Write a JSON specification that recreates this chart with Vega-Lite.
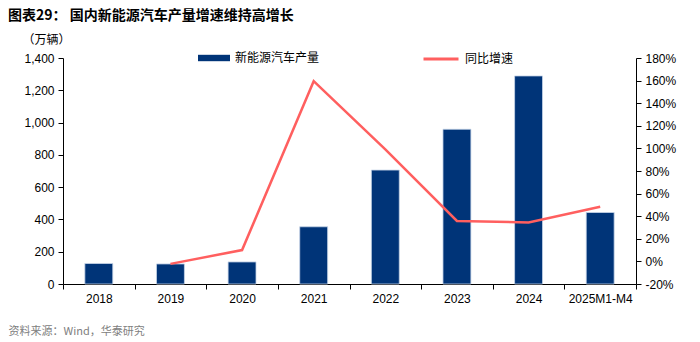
{
  "$schema": "https://vega.github.io/schema/vega-lite/v6.json",
  "width": 573,
  "height": 226,
  "autosize": {"type": "none"},
  "padding": {"left": 63, "top": 58, "right": 64, "bottom": 58},
  "background": "white",
  "title": {
    "text": "图表29：  国内新能源汽车产量增速维持高增长",
    "anchor": "start",
    "frame": "group",
    "dx": -55,
    "offset": 10,
    "font": "Noto Sans CJK SC",
    "fontSize": 14,
    "fontWeight": "bold",
    "color": "#000000"
  },
  "data": {
    "values": [
      {"year": "2018", "prod": 127.0, "growth": null},
      {"year": "2019", "prod": 124.2, "growth": -0.022},
      {"year": "2020", "prod": 136.6, "growth": 0.100},
      {"year": "2021", "prod": 354.5, "growth": 1.595},
      {"year": "2022", "prod": 705.8, "growth": 0.991},
      {"year": "2023", "prod": 958.7, "growth": 0.358},
      {"year": "2024", "prod": 1288.8, "growth": 0.344},
      {"year": "2025M1-M4", "prod": 442.9, "growth": 0.483}
    ]
  },
  "config": {
    "view": {"stroke": null},
    "axis": {
      "grid": false,
      "labelFont": "Liberation Sans",
      "labelFontSize": 12,
      "labelColor": "#000000",
      "domainColor": "#000000",
      "tickColor": "#000000",
      "tickSize": 5
    }
  },
  "encoding": {
    "x": {
      "field": "year",
      "type": "ordinal",
      "sort": null,
      "scale": {"paddingInner": 0, "paddingOuter": 0},
      "axis": {
        "labelAngle": 0,
        "tickBand": "extent",
        "labelPadding": 4,
        "title": "资料来源：Wind，华泰研究",
        "titleFont": "Noto Sans CJK SC",
        "titleFontSize": 11,
        "titleFontWeight": "normal",
        "titleColor": "#808080",
        "titleAnchor": "start",
        "titleAlign": "left",
        "titleBaseline": "middle",
        "titleX": -55,
        "titleY": 47
      }
    }
  },
  "layer": [
    {
      "mark": {"type": "bar", "width": {"band": 0.39}, "stroke": "#C8D5E8", "strokeWidth": 0.8},
      "encoding": {
        "y": {
          "field": "prod",
          "type": "quantitative",
          "scale": {"domain": [0, 1400]},
          "axis": {
            "values": [0, 200, 400, 600, 800, 1000, 1200, 1400],
            "format": ",.0f",
            "labelPadding": 4,
            "title": "（万辆）",
            "titleAngle": 0,
            "titleX": -17,
            "titleY": -19,
            "titleAlign": "center",
            "titleBaseline": "middle",
            "titleFont": "Noto Sans CJK SC",
            "titleFontSize": 12,
            "titleFontWeight": "normal",
            "titleColor": "#000000"
          }
        },
        "fill": {
          "datum": "新能源汽车产量",
          "type": "nominal",
          "scale": {"range": ["#003478"]},
          "legend": {
            "orient": "none",
            "legendX": 135,
            "legendY": -16,
            "title": null,
            "padding": 0,
            "symbolType": "M-1,-0.2H1V0.2H-1Z",
            "symbolSize": 1024,
            "symbolStrokeWidth": 0,
            "labelFont": "Noto Sans CJK SC",
            "labelFontSize": 12,
            "labelColor": "#000000",
            "labelOffset": 5
          }
        }
      }
    },
    {
      "mark": {"type": "line", "strokeWidth": 2.5},
      "encoding": {
        "y": {
          "field": "growth",
          "type": "quantitative",
          "scale": {"domain": [-0.2, 1.8]},
          "axis": {
            "orient": "right",
            "values": [-0.2, 0, 0.2, 0.4, 0.6, 0.8, 1.0, 1.2, 1.4, 1.6, 1.8],
            "labelExpr": "round(datum.value*100) + '%'",
            "labelPadding": 4,
            "title": null
          }
        },
        "stroke": {
          "datum": "同比增速",
          "type": "nominal",
          "scale": {"range": ["#FF5F5F"]},
          "legend": {
            "orient": "none",
            "legendX": 359,
            "legendY": -18,
            "title": null,
            "padding": 0,
            "symbolType": "stroke",
            "symbolSize": 1225,
            "symbolStrokeWidth": 3,
            "labelFont": "Noto Sans CJK SC",
            "labelFontSize": 12,
            "labelColor": "#000000",
            "labelOffset": 5
          }
        }
      }
    }
  ],
  "resolve": {"scale": {"y": "independent", "fill": "independent", "stroke": "independent"}}
}
